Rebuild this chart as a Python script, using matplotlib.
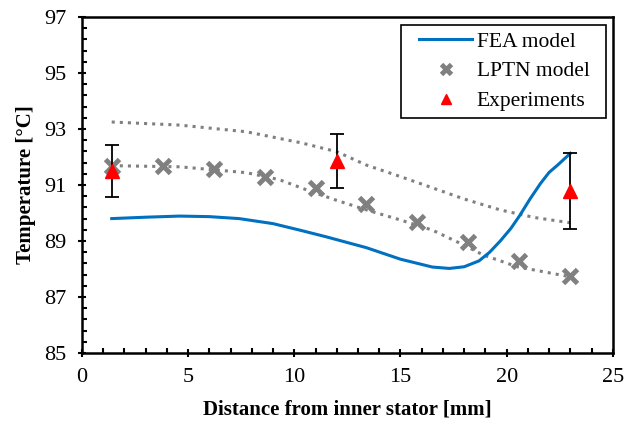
import matplotlib.pyplot as plt
from matplotlib.lines import Line2D
from matplotlib.legend_handler import HandlerLine2D

plt.rcParams['font.family'] = ['Liberation Serif', 'DejaVu Serif']

# FEA model curve
fea_x = [1.4, 3.0, 4.6, 6.0, 7.4, 9.0, 10.3, 11.5, 13.4, 15.0, 16.5, 17.3,
         18.0, 18.7, 19.2, 19.7, 20.2, 20.6, 21.1, 21.6, 22.0, 22.4, 23.0]
fea_y = [89.80, 89.85, 89.89, 89.87, 89.80, 89.62, 89.38, 89.15, 88.76, 88.35, 88.07, 88.02,
         88.08, 88.29, 88.60, 89.00, 89.45, 89.89, 90.50, 91.06, 91.45, 91.71, 92.13]

# LPTN model points
lptn_x = [1.4, 3.8, 6.2, 8.6, 11.0, 13.4, 15.8, 18.2, 20.6, 23.0]
lptn_y = [91.69, 91.68, 91.56, 91.30, 90.90, 90.32, 89.67, 88.98, 88.29, 87.75]

# dotted bounds
upper_x = [1.4, 4.6, 7.75, 10.3, 12.0, 13.4, 15.0, 16.5, 18.0, 19.7, 21.3, 23.0]
upper_y = [93.25, 93.14, 92.90, 92.51, 92.19, 91.71, 91.30, 90.90, 90.50, 90.11, 89.84, 89.65]
lower_x = [1.4, 4.6, 7.75, 9.3, 10.6, 12.0, 13.4, 15.0, 16.5, 18.0, 18.9, 20.5, 23.0]
lower_y = [91.69, 91.65, 91.44, 91.19, 90.82, 90.45, 90.11, 89.75, 89.39, 88.85, 88.50, 88.08, 87.72]

# experiments
exp_x = [1.4, 12.0, 23.0]
exp_y = [91.50, 91.85, 90.80]
exp_err = [0.92, 0.97, 1.36]

x_major = [0, 5, 10, 15, 20, 25]
y_major = [85, 87, 89, 91, 93, 95, 97]

fig = plt.figure(figsize=(6.37, 4.23), dpi=100)
ax = fig.add_axes([0.1287, 0.1655, 0.8333, 0.7943])

ax.plot(upper_x, upper_y, ':', color='#808080', lw=2.2, zorder=2)
ax.plot(lower_x, lower_y, ':', color='#808080', lw=2.2, zorder=2)
ax.plot(fea_x, fea_y, color='#0070C0', lw=2.2, label='FEA model', zorder=3)
ax.plot(lptn_x, lptn_y, 'x', color='#808080', ms=10, mew=3.5, ls='none',
        label='LPTN model', zorder=4)
ax.errorbar(exp_x, exp_y, yerr=exp_err, fmt='none', ecolor='black', elinewidth=1.3,
            capsize=5, capthick=1.3, zorder=5)
ax.plot(exp_x, exp_y, '^', color='red', ms=10, ls='none', label='Experiments', zorder=6)

ax.set_xlim(0, 25)
ax.set_ylim(85, 97)
ax.set_xticks(x_major)
ax.set_xticks([v for v in range(26) if v % 5], minor=True)
ax.set_yticks(y_major)
ax.set_yticks([85 + 0.4 * i for i in range(31) if i % 5], minor=True)
ax.tick_params(which='major', direction='inout', length=6, width=1.5, labelsize=16, pad=8)
ax.tick_params(which='minor', direction='in', length=3.5, width=1.5)
for s in ax.spines.values():
    s.set_linewidth(1.8)

ax.set_xlabel('Distance from inner stator [mm]', fontsize=15, fontweight='bold', labelpad=9)
ax.set_ylabel('Temperature [°C]', fontsize=15, fontweight='bold', labelpad=6)

leg = ax.legend(loc='upper left', bbox_to_anchor=(0.6008, 0.5, 0.386, 0.476), mode='expand',
                borderaxespad=0, fancybox=False, edgecolor='black', fontsize=15.5,
                framealpha=1, handlelength=3.0, handletextpad=0.23, borderpad=0.3,
                labelspacing=0.45, markerscale=0.72,
                handler_map={Line2D: HandlerLine2D(xpad=0.55)})
leg.get_frame().set_linewidth(1.2)

fig.savefig('out.png', dpi=100)
